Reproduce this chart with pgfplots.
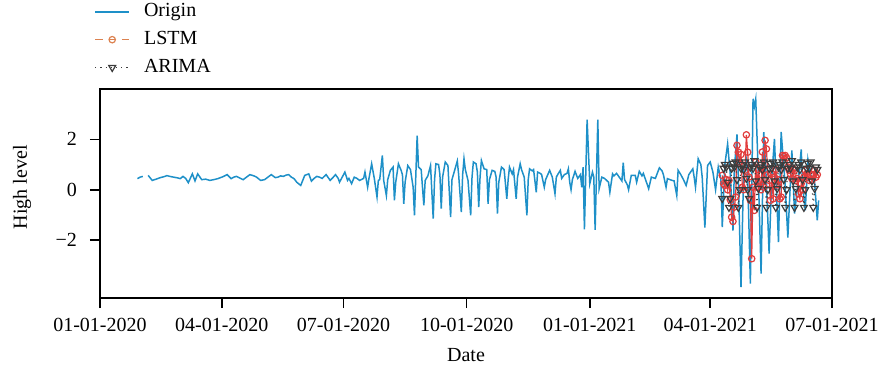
\documentclass[border=0pt]{standalone}
\usepackage{pgfplots}
\pgfplotsset{compat=1.18}
\usepackage{fontspec}
\setmainfont{Liberation Serif}
\definecolor{origblue}{RGB}{30,144,200}
\definecolor{lstmred}{RGB}{225,60,60}
\definecolor{lstmleg}{RGB}{220,130,80}
\definecolor{arimagray}{RGB}{60,60,60}
\begin{document}
\begin{tikzpicture}
\begin{axis}[
  name=ax, at={(0,0)}, anchor=south west,
  scale only axis, width=366pt, height=104.5pt,
  xmin=0, xmax=547, ymin=-4.3, ymax=4.0,
  xtick={0,91,182,274,366,456,547},
  xticklabels={01-01-2020,04-01-2020,07-01-2020,10-01-2020,01-01-2021,04-01-2021,07-01-2021},
  ytick={-2,0,2}, yticklabels={−2,0,2},
  tick align=outside, major tick length=5pt,
  xtick pos=bottom, ytick pos=left,
  tick style={black, line width=0.8pt},
  axis line style={black, line width=0.8pt},
  xlabel={Date}, ylabel={High level},
  every axis x label/.style={at={(axis description cs:0.5,0)}, anchor=center, yshift=-28.5pt},
  every axis y label/.style={at={(axis description cs:0,0.53)}, xshift=-39pt, rotate=90, anchor=center},
  xticklabel style={anchor=base, yshift=-11.6pt},
  yticklabel style={anchor=east, xshift=-3pt},
  unbounded coords=jump,
  legend style={at={(axis description cs:0,1)}, anchor=south west, xshift=-6pt, yshift=2.5pt,
    draw=none, fill=none, row sep=1.8pt, column sep=5pt, font=\fontsize{10}{12}\selectfont},
  legend cell align=left,
]
\addplot[origblue, line width=0.75pt] coordinates {
(28,0.44) (30,0.50) (32,0.53) (34,nan) (36,0.57) (39,0.37) (42,0.42) (45,0.48) (48,0.52) (50,0.56)
(53,0.52) (55,0.50) (58,0.47) (60,0.44) (62,0.53) (64,0.45) (66,0.28) (69,0.63) (71,0.35) (73,0.63)
(76,0.40) (79,0.42) (82,0.37) (85,0.40) (88,0.44) (92,0.52) (95,0.60) (98,0.44) (100,0.50) (102,0.53)
(105,0.45) (107,0.40) (110,0.52) (112,0.60) (115,0.55) (117,0.50) (120,0.37) (123,0.40) (126,0.52) (128,0.60)
(131,0.48) (133,0.50) (135,0.55) (137,0.53) (139,0.58) (141,0.60) (143,0.50) (145,0.44) (147,0.30) (150,0.17)
(153,0.57) (156,0.63) (158,0.34) (160,0.45) (162,0.53) (164,0.50) (166,0.45) (168,0.55) (169,0.60) (172,0.37)
(174,0.48) (176,0.60) (178,0.45) (179,0.30) (181,0.50) (183,0.70) (185,0.37) (186,0.45) (188,0.24) (190,0.50)
(192,0.45) (194,0.37) (197,0.45) (198,0.70) (200,0.10) (201,0.45) (203,1.03) (205,0.44) (207,-0.29) (208,0.37)
(209,0.40) (211,1.36) (212,0.37) (214,-0.23) (215,0.40) (217,0.77) (219,0.90) (220,-0.42) (221,0.30) (223,1.03)
(225,0.77) (226,0.60) (227,-0.56) (228,0.30) (230,0.96) (232,0.80) (234,0.10) (235,-1.02) (237,2.15) (238,0.90)
(240,0.80) (242,-0.62) (243,0.37) (245,0.55) (247,0.96) (249,-1.15) (250,0.40) (251,1.03) (253,1.00) (254,0.60)
(255,-0.75) (256,0.50) (258,1.10) (260,0.96) (262,-1.09) (263,0.40) (265,0.77) (267,1.14) (268,0.60) (270,-0.89)
(271,0.60) (272,1.23) (273,0.80) (275,0.37) (277,-1.02) (278,0.50) (279,1.10) (281,1.03) (282,0.70) (283,-0.69)
(284,0.50) (285,1.16) (287,0.83) (289,0.80) (290,-0.56) (291,0.40) (293,0.77) (295,0.73) (296,0.50) (297,-0.95)
(298,0.30) (300,0.90) (302,0.80) (304,-0.36) (305,0.40) (306,0.90) (308,0.63) (309,0.80) (311,-0.36) (312,0.50)
(314,1.03) (315,0.80) (317,0.50) (319,-1.02) (320,0.40) (321,0.83) (323,0.75) (324,0.80) (326,-0.10) (327,0.70)
(329,0.65) (330,0.60) (332,0.10) (333,0.40) (336,0.77) (338,0.50) (340,-0.16) (341,0.50) (342,0.60) (344,0.77)
(345,0.45) (347,0.60) (349,0.65) (350,0.83) (351,0.30) (352,0.00) (353,0.40) (355,0.73) (357,0.45) (359,0.60)
(360,0.10) (361,0.90) (362,-1.57) (364,2.78) (366,0.24) (368,0.70) (369,0.50) (370,-1.59) (372,2.78) (373,0.04)
(375,0.50) (377,0.45) (380,0.30) (381,-0.10) (383,0.63) (384,0.55) (386,0.65) (388,0.50) (390,0.35) (391,1.07)
(392,0.40) (394,0.20) (395,0.00) (397,0.57) (400,0.57) (401,0.30) (403,0.73) (405,0.55) (406,0.65) (408,0.35)
(410,0.04) (412,0.50) (415,0.45) (418,0.87) (420,0.75) (421,0.60) (423,0.10) (424,0.44) (427,0.38) (429,0.35)
(431,-0.23) (432,0.77) (434,0.60) (436,0.40) (438,0.17) (440,0.60) (443,0.83) (444,0.50) (445,0.10) (447,1.23)
(449,1.00) (450,0.50) (452,-1.50) (454,0.96) (456,1.10) (458,0.70) (460,0.00) (462,0.90) (464,0.40) (465,-1.48)
(467,1.03) (469,1.82) (471,0.60) (473,-1.62) (474,0.80) (476,2.20) (477,0.50) (479,-3.87) (481,0.77) (483,1.20)
(484,0.50) (486,-3.73) (488,3.61) (489,3.30) (490,3.60) (492,0.50) (494,-3.33) (496,2.29) (498,0.30) (500,-2.54)
(502,0.50) (504,2.02) (507,-2.08) (509,2.30) (512,0.20) (514,-1.90) (517,1.56) (519,-0.95) (522,0.50) (524,1.60)
(525,0.20) (527,-0.82) (529,1.20) (531,0.60) (534,0.30) (536,-1.22) (537,-0.42)
};
\addlegendentry{Origin}
\addplot[lstmred, line width=0.6pt, mark=o, mark size=1.6pt, mark options={solid},
  legend image code/.code={
    \draw[lstmleg, line width=0.6pt] (0cm,0cm)--(0.13cm,0cm) (0.24cm,0cm)--(0.36cm,0cm) (0.47cm,0cm)--(0.6cm,0cm);
    \draw[lstmleg, line width=0.6pt] (0.3cm,0cm) circle (1.6pt);}] coordinates {
(465,0.57) (466,0.24) (467,0.17) (468,0.40) (469,0.00) (470,0.37) (471,-0.40) (472,-1.09) (473,-1.26) (474,-0.69)
(475,-0.29) (476,1.76) (477,1.49) (478,1.10) (479,1.40) (480,0.10) (481,0.00) (482,0.77) (483,2.18) (484,1.49)
(485,0.50) (486,-0.42) (487,-2.74) (488,0.10) (489,-0.82) (490,1.10) (491,0.10) (492,0.80) (493,0.37) (494,0.00)
(495,1.50) (496,0.10) (497,1.96) (498,1.62) (499,0.60) (500,0.37) (501,-0.42) (502,0.63) (503,-0.36) (504,0.50)
(505,0.80) (506,0.20) (507,0.40) (508,-0.36) (509,-0.29) (510,1.36) (511,1.32) (512,1.36) (513,1.27) (514,0.90)
(515,0.77) (516,0.63) (517,0.44) (518,0.83) (519,0.77) (520,0.37) (521,0.44) (522,-0.16) (523,-0.36) (524,0.24)
(525,0.00) (526,0.50) (527,0.77) (528,0.63) (529,0.50) (530,0.37) (531,0.60) (532,0.37) (533,0.60) (534,0.77)
(535,0.50) (536,0.60)
};
\addlegendentry{LSTM}
\addplot[arimagray, line width=0.6pt, dotted, mark=triangle, mark size=2pt, mark options={solid, rotate=180}] coordinates {
(465,-0.35) (466,0.85) (467,1.00) (468,0.90) (469,0.30) (470,-0.70) (471,-0.35) (472,0.85) (473,1.05) (474,0.90)
(475,1.10) (476,0.40) (477,-0.70) (478,0.00) (479,0.85) (480,1.00) (481,0.80) (482,1.10) (483,0.45) (484,0.00)
(485,-0.35) (486,0.90) (487,1.00) (488,0.85) (489,1.15) (490,0.35) (491,-0.70) (492,0.05) (493,0.90) (494,1.00)
(495,0.80) (496,1.10) (497,0.40) (498,-0.70) (499,0.00) (500,0.85) (501,1.05) (502,0.85) (503,1.10) (504,0.35)
(505,-0.70) (506,0.05) (507,0.90) (508,1.00) (509,0.80) (510,1.10) (511,0.40) (512,-0.70) (513,0.00) (514,0.85)
(515,1.00) (516,0.85) (517,1.15) (518,0.35) (519,-0.70) (520,0.05) (521,0.90) (522,1.00) (523,0.80) (524,1.10)
(525,0.40) (526,-0.70) (527,0.00) (528,0.85) (529,1.05) (530,0.85) (531,1.10) (532,0.35) (533,-0.70) (534,0.05)
(535,0.90) (536,0.80)
};
\addlegendentry{ARIMA}
\end{axis}
\pgfresetboundingbox
\path[use as bounding box] (-50pt,-38.5pt) rectangle (390.5pt,149pt);
\end{tikzpicture}
\end{document}
